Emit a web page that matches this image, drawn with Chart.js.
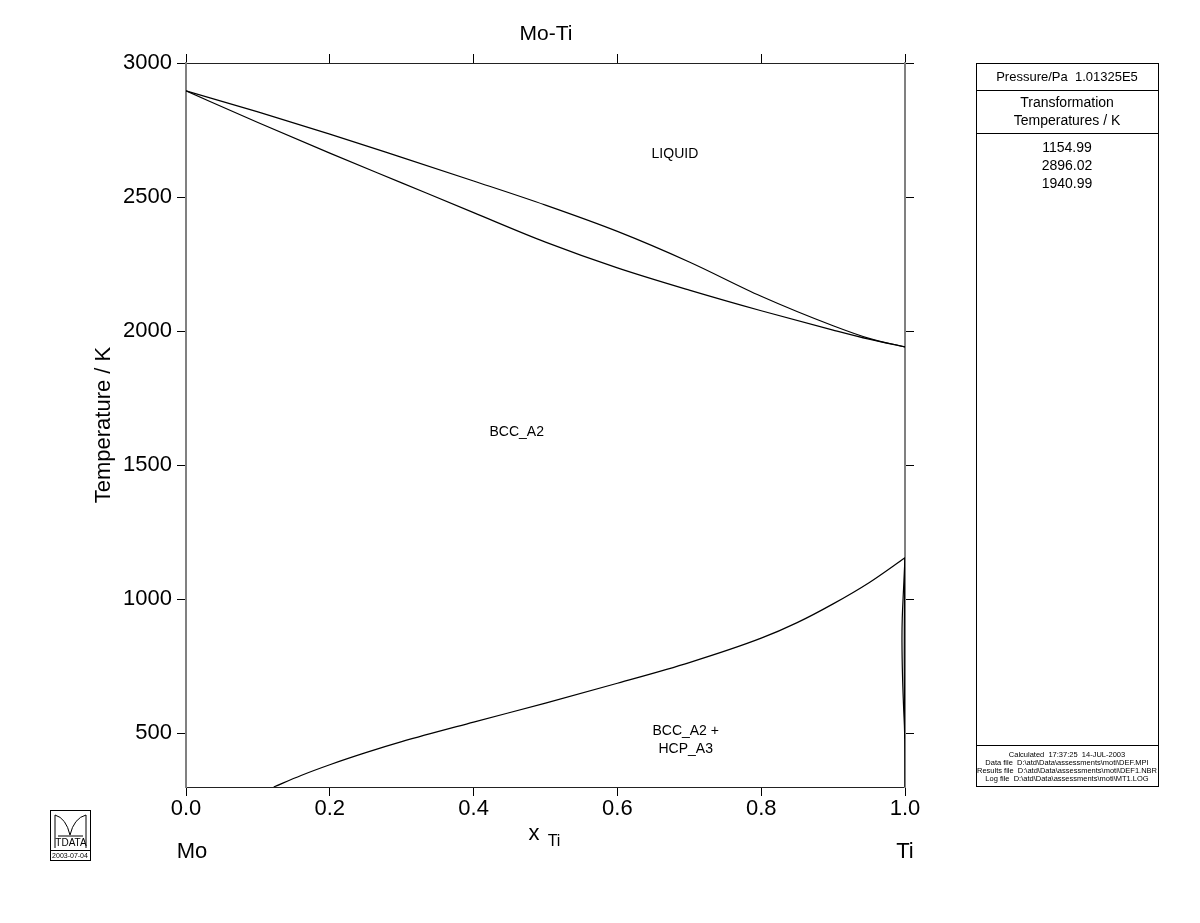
<!DOCTYPE html>
<html>
<head>
<meta charset="utf-8">
<script src="https://cdn.jsdelivr.net/npm/chart.js@4"></script>
<style>
  html, body { margin: 0; padding: 0; background: #fff; }
  #wrap { width: 1200px; height: 923px; }
</style>
</head>
<body>
<div id="wrap"><canvas id="moTi"></canvas></div>
<script>
// phase boundaries (x = mole fraction Ti, T in K)
const liqX = [0, 0.1, 0.2, 0.3, 0.4, 0.5, 0.6, 0.7, 0.8, 0.9, 0.95, 1.0];
const liqT = [2896, 2818, 2735, 2648, 2560, 2470, 2372, 2258, 2130, 2020, 1973, 1941];

const solX = [0, 0.1, 0.2, 0.3, 0.4, 0.5, 0.6, 0.7, 0.8, 0.9, 0.95, 1.0];
const solT = [2896, 2778, 2664, 2553, 2442, 2332, 2236, 2153, 2076, 2004, 1970, 1941];

const solvusX = [0.122, 0.16, 0.2, 0.25, 0.3, 0.4, 0.5, 0.6, 0.7, 0.8, 0.85, 0.9, 0.95, 1.0];
const solvusT = [300, 343, 383, 428, 469, 542, 613, 687, 764, 855, 913, 983, 1062, 1155];

const hcpX = [1.0, 0.998, 0.9962, 0.9958, 0.9965, 0.998, 0.9995, 1.0];
const hcpT = [1155, 1040, 930, 840, 720, 600, 500, 300];

const hcp2X = [1.0, 0.9993, 0.999, 0.9993, 1.0];
const hcp2T = [1155, 1000, 800, 620, 480];

const xTicks = [0, 0.2, 0.4, 0.6, 0.8, 1.0];
const yTicks = [500, 1000, 1500, 2000, 2500, 3000];

const phaseLabels = [
  { x: 0.68, T: 2660, lines: ['LIQUID'] },
  { x: 0.46, T: 1625, lines: ['BCC_A2'] },
  { x: 0.695, T: 510, lines: ['BCC_A2 +', 'HCP_A3'] }
];

const transTemps = ['1154.99', '2896.02', '1940.99'];
const footLines = [
  'Calculated  17:37:25  14-JUL-2003',
  'Data file  D:\\atd\\Data\\assessments\\moti\\DEF.MPI',
  'Results file  D:\\atd\\Data\\assessments\\moti\\DEF1.NBR',
  'Log file  D:\\atd\\Data\\assessments\\moti\\MT1.LOG'
];

const FONT = '"Liberation Sans", Arial, sans-serif';

function pts(xs, ts) {
  return xs.map((x, i) => ({ x: x, y: ts[i] }));
}

function line(xs, ts, mode) {
  return {
    data: pts(xs, ts),
    showLine: true,
    borderColor: '#000',
    borderWidth: 1.2,
    pointRadius: 0,
    cubicInterpolationMode: mode || 'default',
    tension: mode ? 0 : 0.4
  };
}

// everything that is not a data mark: titles, labels, side panel, logo
const decor = {
  id: 'decor',
  afterDraw(chart) {
    const ctx = chart.ctx;
    const xs = chart.scales.x, ys = chart.scales.y;
    ctx.save();
    ctx.fillStyle = '#000';
    ctx.textAlign = 'center';
    ctx.textBaseline = 'middle';

    ctx.font = '21px ' + FONT;
    ctx.fillText('Mo-Ti', 546, 34);

    ctx.font = '22px ' + FONT;
    ctx.fillText('Mo', 192, 852);
    ctx.fillText('Ti', 905, 852);
    ctx.fillText('x', 534, 834);
    ctx.font = '16px ' + FONT;
    ctx.fillText('Ti', 554, 842);

    ctx.save();
    ctx.translate(104, 425);
    ctx.rotate(-Math.PI / 2);
    ctx.font = '22px ' + FONT;
    ctx.fillText('Temperature / K', 0, 0);
    ctx.restore();

    ctx.font = '14px ' + FONT;
    phaseLabels.forEach(p => {
      const px = xs.getPixelForValue(p.x), py = ys.getPixelForValue(p.T);
      p.lines.forEach((s, i) => ctx.fillText(s, px, py + i * 18));
    });

    // side panel
    ctx.strokeStyle = '#000';
    ctx.lineWidth = 1;
    ctx.strokeRect(976.5, 63.5, 182, 723);
    [90.5, 133.5, 745.5].forEach(y => {
      ctx.beginPath(); ctx.moveTo(976.5, y); ctx.lineTo(1158.5, y); ctx.stroke();
    });
    ctx.font = '13px ' + FONT;
    ctx.fillText('Pressure/Pa  1.01325E5', 1067, 77);
    ctx.font = '14px ' + FONT;
    ctx.fillText('Transformation', 1067, 103);
    ctx.fillText('Temperatures / K', 1067, 121);
    transTemps.forEach((s, i) => ctx.fillText(s, 1067, 148 + i * 18));
    ctx.font = '7.5px ' + FONT;
    footLines.forEach((s, i) => ctx.fillText(s, 1067, 755 + i * 8));

    // logo
    ctx.lineWidth = 1;
    ctx.strokeRect(50.5, 810.5, 40, 40);
    ctx.beginPath();
    ctx.moveTo(55, 815);
    ctx.quadraticCurveTo(66, 818, 70, 835);
    ctx.quadraticCurveTo(74, 818, 86, 815);
    ctx.moveTo(55, 815); ctx.lineTo(55, 848);
    ctx.moveTo(86, 815); ctx.lineTo(86, 848);
    ctx.moveTo(58, 836); ctx.lineTo(83, 836);
    ctx.stroke();
    ctx.font = '10px ' + FONT;
    ctx.fillText('TDATA', 71, 843);
    ctx.font = '7px ' + FONT;
    ctx.fillText('2003-07-04', 70, 856);
    ctx.strokeRect(50.5, 850.5, 40, 10);
    ctx.restore();
  }
};

const tickGrid = { drawOnChartArea: false, color: '#000', tickLength: 9, tickWidth: 1 };

new Chart(document.getElementById('moTi'), {
  type: 'scatter',
  data: {
    datasets: [
      line(liqX, liqT, 'monotone'),
      line(solX, solT, 'monotone'),
      line(solvusX, solvusT, 'monotone'),
      line(hcpX, hcpT),
      line(hcp2X, hcp2T)
    ]
  },
  options: {
    responsive: true,
    maintainAspectRatio: false,
    animation: false,
    layout: { padding: 0 },
    plugins: { legend: { display: false }, tooltip: { enabled: false }, title: { display: false } },
    scales: {
      x: {
        type: 'linear', position: 'bottom', min: 0, max: 1,
        afterBuildTicks: s => { s.ticks = xTicks.map(v => ({ value: v })); },
        afterFit: s => { s.height = 136; },
        ticks: { color: '#000', font: { family: FONT, size: 22 }, padding: 0,
                 maxRotation: 0, callback: v => v.toFixed(1) },
        grid: tickGrid,
        border: { color: '#222', width: 1 }
      },
      xTop: {
        type: 'linear', position: 'top', min: 0, max: 1,
        afterBuildTicks: s => { s.ticks = xTicks.map(v => ({ value: v })); },
        afterFit: s => { s.height = 63; },
        ticks: { display: false },
        grid: tickGrid,
        border: { color: '#222', width: 1 }
      },
      y: {
        type: 'linear', position: 'left', min: 300, max: 3000,
        afterBuildTicks: s => { s.ticks = yTicks.map(v => ({ value: v })); },
        afterFit: s => { s.width = 186; },
        ticks: { color: '#000', font: { family: FONT, size: 22 }, padding: 5,
                 callback: v => String(v) },
        grid: tickGrid,
        border: { color: '#808080', width: 2 }
      },
      yRight: {
        type: 'linear', position: 'right', min: 300, max: 3000,
        afterBuildTicks: s => { s.ticks = yTicks.map(v => ({ value: v })); },
        afterFit: s => { s.width = 295; },
        ticks: { display: false },
        grid: tickGrid,
        border: { color: '#808080', width: 2 }
      }
    }
  },
  plugins: [decor]
});
</script>
</body>
</html>
